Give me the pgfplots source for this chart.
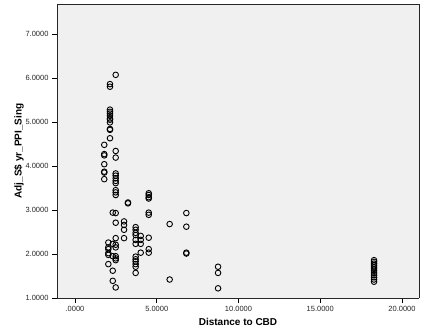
\documentclass[border=0pt]{standalone}
\usepackage{fontspec}
\setmainfont{Liberation Sans}
\usepackage{pgfplots}
\pgfplotsset{compat=1.18}
\usepackage{pgfplotstable}

% Distance to CBD vs. adjusted price index
\pgfplotstableread{
x y
1.79 4.48
1.79 4.27
1.79 4.24
1.79 4.04
1.79 3.87
1.79 3.85
1.79 3.70
2.14 5.86
2.14 5.80
2.14 5.28
2.14 5.23
2.14 5.19
2.14 5.14
2.14 5.08
2.14 5.05
2.14 4.99
2.14 4.84
2.14 4.82
2.14 4.63
2.49 6.07
2.49 4.34
2.49 4.19
2.49 3.83
2.49 3.78
2.49 3.72
2.49 3.66
2.49 3.61
2.49 3.45
2.49 3.40
2.49 3.34
2.49 2.93
2.49 2.71
2.49 2.36
2.49 2.21
2.49 2.15
2.49 1.95
2.49 1.90
2.49 1.86
2.49 1.24
2.31 2.94
2.31 2.23
2.31 1.95
2.31 1.62
2.31 1.39
2.04 2.26
2.04 2.15
2.04 2.11
2.04 2.02
2.04 1.98
2.04 1.77
3.00 2.74
3.00 2.66
3.00 2.55
3.00 2.36
3.24 3.17
3.24 3.15
3.71 2.61
3.71 2.55
3.71 2.48
3.71 2.43
3.71 2.32
3.71 2.23
3.71 1.94
3.71 1.88
3.71 1.83
3.71 1.77
3.71 1.71
3.71 1.57
4.02 2.41
4.02 2.32
4.02 2.23
4.02 2.03
4.51 3.38
4.51 3.34
4.51 3.29
4.51 3.26
4.51 2.94
4.51 2.89
4.51 2.37
4.51 2.11
4.51 2.03
5.79 2.68
5.79 1.42
6.81 2.93
6.81 2.62
6.81 2.03
6.81 2.01
8.75 1.71
8.75 1.57
8.75 1.22
18.29 1.86
18.29 1.82
18.29 1.78
18.29 1.74
18.29 1.70
18.29 1.66
18.29 1.62
18.29 1.57
18.29 1.52
18.29 1.47
18.29 1.42
18.29 1.37
}\cbddata

\begin{document}
\begin{tikzpicture}
\begin{axis}[
  scale only axis,
  width=362pt, height=294pt,
  xmin=-1.10, xmax=21.04,
  ymin=1.0, ymax=7.68,
  axis background/.style={fill=black!6},
  axis line style={black!85, line width=0.9pt},
  axis x line*=bottom, axis y line*=left,
  separate axis lines,
  xtick={0,5,10,15,20},
  xticklabels={.0000,5.0000,10.0000,15.0000,20.0000},
  ytick={1,2,3,4,5,6,7},
  yticklabels={1.0000,2.0000,3.0000,4.0000,5.0000,6.0000,7.0000},
  tick align=outside,
  major tick length=5pt,
  tick style={black, line width=0.6pt},
  ticklabel style={font=\fontsize{7.5}{9}\selectfont, text=black!85},
  xlabel={\textbf{Distance to CBD}},
  ylabel={\textbf{Adj\_S\$ yr\_PPI\_Sing}},
  ylabel shift=-5pt,
  label style={font=\fontsize{10}{12}\selectfont},
  clip=false,
]
\addplot[only marks, mark=o, mark size=2.8pt, mark options={line width=0.9pt, black}]
  table[x=x, y=y] {\cbddata};
\end{axis}
% right and top border of the plot area
\draw[black!85, line width=0.9pt] (0,294pt) -- (362pt,294pt) -- (362pt,0);
\pgfresetboundingbox
\path[use as bounding box] (-57pt,-36pt) rectangle (370pt,298pt);
\end{tikzpicture}
\end{document}
